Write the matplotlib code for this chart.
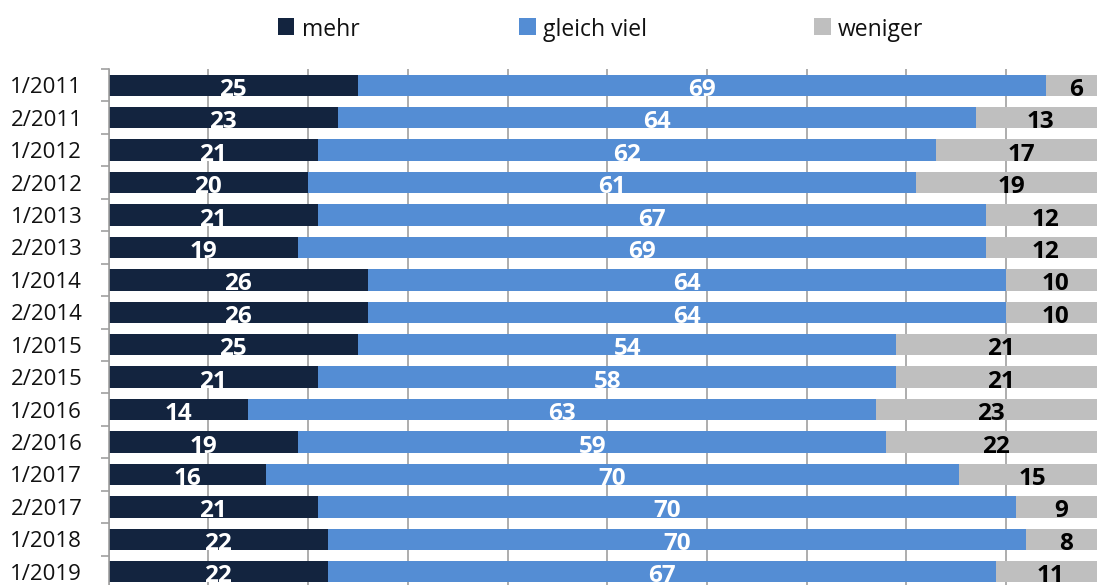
import matplotlib
matplotlib.use("Agg")
import matplotlib.pyplot as plt
from matplotlib.patches import Rectangle
import numpy as np

plt.rcParams['font.family'] = ['Open Sans', 'DejaVu Sans']

categories = ["1/2011", "2/2011", "1/2012", "2/2012", "1/2013", "2/2013",
              "1/2014", "2/2014", "1/2015", "2/2015", "1/2016", "2/2016",
              "1/2017", "2/2017", "1/2018", "1/2019"]
mehr = [25, 23, 21, 20, 21, 19, 26, 26, 25, 21, 14, 19, 15.8, 21, 22, 22]
gleich_viel = [69, 64, 62, 61, 67, 69, 64, 64, 54, 58, 63, 59, 69.5, 70, 70, 67]
weniger = [6, 13, 17, 19, 12, 12, 10, 10, 21, 21, 23, 22, 14.7, 9, 8, 11]
series_names = ["mehr", "gleich viel", "weniger"]
colors = ["#13243F", "#548DD4", "#BFBFBF"]
label_colors = ["white", "white", "black"]

W, H = 1097, 585
fig = plt.figure(figsize=(W / 100, H / 100), dpi=100)
ax_left, ax_right = 108.7, 1105.7
ax_top, ax_bottom = 69, 588
ax = fig.add_axes([ax_left / W, (H - ax_bottom) / H,
                   (ax_right - ax_left) / W, (ax_bottom - ax_top) / H])

n = len(categories)
y = np.arange(n)
left = np.zeros(n)
for vals, name, col, lc in zip([mehr, gleich_viel, weniger], series_names, colors, label_colors):
    vals = np.array(vals, dtype=float)
    ax.barh(y, vals, left=left, height=0.66, color=col, edgecolor='none', zorder=2, label=name)
    for yi, l, v in zip(y, left, vals):
        ax.annotate(f"{int(round(v))}", (l + v / 2, yi), xytext=(0, -3.3),
                    textcoords='offset points', ha='center', va='center',
                    fontsize=17.5, fontweight='bold', color=lc, zorder=3)
    left = left + vals

ax.set_xlim(0, 100)
ax.set_ylim(n - 0.5, -0.5)
ax.set_xticks(np.arange(0, 101, 10))
ax.tick_params(axis='x', length=0, labelbottom=False)
ax.xaxis.grid(True, color='#A0A0A0', linewidth=1.2, zorder=0)
ax.set_axisbelow(True)

ax.set_yticks(y)
ax.set_yticklabels(categories, fontsize=16, color='#111111')
ax.tick_params(axis='y', which='major', length=0, pad=19)
ax.set_yticks(np.arange(-0.5, n, 1), minor=True)
ax.tick_params(axis='y', which='minor', length=6, width=1.2, color='#A0A0A0')

for s in ['top', 'right', 'bottom']:
    ax.spines[s].set_visible(False)
ax.spines['left'].set_color('#A0A0A0')
ax.spines['left'].set_linewidth(1.2)

# legend drawn manually at reference positions (pixel coords from top-left)
marker_x = [278, 519, 814]
text_x = [302, 543, 838]
for mx, tx, c, nm in zip(marker_x, text_x, colors, series_names):
    fig.patches.append(Rectangle((mx / W, 1 - 34.5 / H), 16.5 / W, 16.5 / H,
                                 transform=fig.transFigure, facecolor=c,
                                 edgecolor='none'))
    fig.text(tx / W, 1 - 27 / H, nm, fontsize=16.5, color='#111111',
             ha='left', va='center_baseline')

fig.savefig("out.png", dpi=100)
